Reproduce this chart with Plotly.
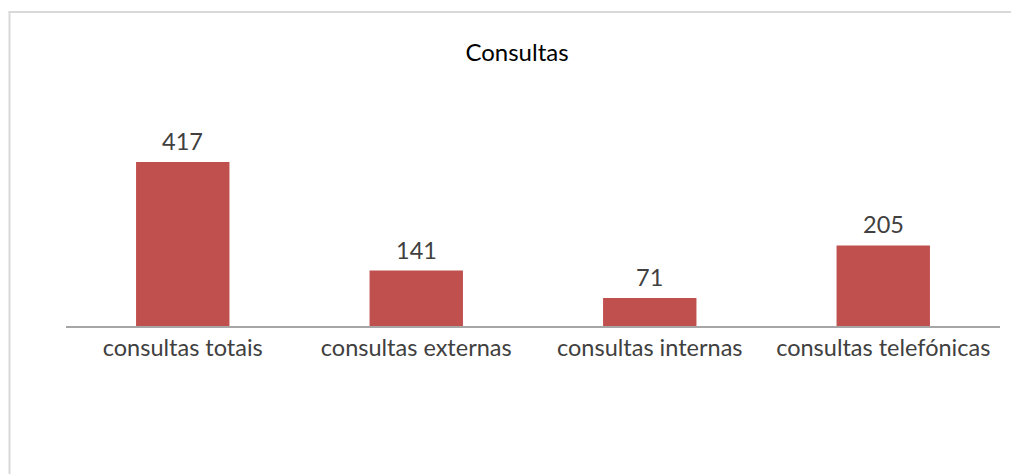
import plotly.graph_objects as go

categories = ["consultas totais", "consultas externas", "consultas internas", "consultas telefónicas"]
values = [417, 141, 71, 205]
title_text = "Consultas"

BAR_COLOR = "#C0504D"
TEXT_COLOR = "#404040"
FONT = "Lato, Calibri, Carlito, sans-serif"

W, H = 1012, 475
ML, MR, MT, MB = 66, 12, 100, 149
plot_w = W - ML - MR
plot_h = H - MT - MB
ymax = plot_h / (164 / 417)

fig = go.Figure()
fig.add_trace(go.Bar(
    x=categories, y=values,
    marker=dict(color=BAR_COLOR, line=dict(width=0)),
    width=0.4,
    hoverinfo="skip",
))

for c, v in zip(categories, values):
    fig.add_annotation(x=c, y=v, text=str(v), showarrow=False,
                       yanchor="bottom", yshift=5,
                       font=dict(family=FONT, size=23.5, color=TEXT_COLOR))

def px_to_paper_x(px):
    return (px - ML) / plot_w

def px_to_paper_y(py):
    return (H - MB - py) / plot_h

border = dict(color="#D9D9D9", width=2)
fig.add_shape(type="line", xref="paper", yref="paper",
              x0=px_to_paper_x(8.5), x1=px_to_paper_x(W - 1),
              y0=px_to_paper_y(12), y1=px_to_paper_y(12),
              line=border, layer="below")
fig.add_shape(type="line", xref="paper", yref="paper",
              x0=px_to_paper_x(9.5), x1=px_to_paper_x(9.5),
              y0=px_to_paper_y(11), y1=px_to_paper_y(H - 1),
              line=border, layer="below")

fig.update_layout(
    width=W, height=H,
    margin=dict(l=ML, r=MR, t=MT, b=MB),
    paper_bgcolor="white", plot_bgcolor="white",
    showlegend=False,
    title=dict(text=title_text, x=517 / W, xanchor="center", y=1 - 53 / H, yanchor="middle",
               font=dict(family=FONT, size=24, color="black")),
    xaxis=dict(showline=True, linecolor="#A6A6A6", linewidth=1.5,
               showgrid=False, zeroline=False, ticks="",
               tickfont=dict(family=FONT, size=23.5, color=TEXT_COLOR),
               ticklabelstandoff=0),
    yaxis=dict(visible=False, range=[0, ymax], showgrid=False, zeroline=False),
    bargap=0.6,
)

fig.write_html("out.html",
               config={"displayModeBar": False, "responsive": False},
               post_script="document.documentElement.style.overflow='hidden';document.body.style.margin='0';document.body.style.overflow='hidden';")
